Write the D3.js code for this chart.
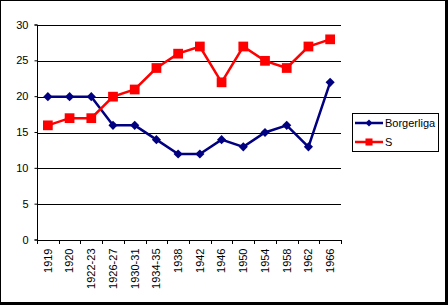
<!DOCTYPE html>
<html>
<head>
<meta charset="utf-8">
<script src="https://cdn.jsdelivr.net/npm/d3@7"></script>
<style>
  body { margin: 0; background: #fff; }
  text { font-family: "Liberation Sans", Arial, sans-serif; font-size: 11px; fill: #000; }
</style>
</head>
<body>
<div id="chart"></div>
<script>
// valår
const years = ['1919', '1920', '1922-23', '1926-27', '1930-31', '1934-35', '1938', '1942',
  '1946', '1950', '1954', '1958', '1962', '1966'];
const borgerliga = [20, 20, 20, 16, 16, 14, 12, 12, 14, 13, 15, 16, 13, 22];
const sValues = [16, 17, 17, 20, 21, 24, 26, 27, 22, 27, 25, 24, 27, 28];
const yTicks = [0, 5, 10, 15, 20, 25, 30];
const seriesNames = ['Borgerliga', 'S'];

const width = 448, height = 305;
const plot = { left: 37, right: 341, top: 25, bottom: 240 };

const svg = d3.select('#chart').append('svg')
  .attr('width', width)
  .attr('height', height);

// ram
svg.append('rect')
  .attr('x', 0.5).attr('y', 0.5)
  .attr('width', 445).attr('height', 302)
  .attr('fill', '#fff').attr('stroke', '#000');
svg.append('rect').attr('x', 445).attr('y', 0).attr('width', 3).attr('height', 305).attr('fill', '#000');
svg.append('rect').attr('x', 0).attr('y', 302).attr('width', 448).attr('height', 3).attr('fill', '#000');

const x = d3.scaleBand().domain(years).range([plot.left, plot.right]);
const y = d3.scaleLinear().domain([0, 30]).range([plot.bottom, plot.top]);

// rutnät
svg.append('g')
  .selectAll('line')
  .data(yTicks.filter(d => d > 0))
  .join('line')
  .attr('x1', plot.left).attr('x2', plot.right)
  .attr('y1', d => Math.round(y(d)) + 0.5).attr('y2', d => Math.round(y(d)) + 0.5)
  .attr('stroke', '#000');

// y-axel
const yAxis = svg.append('g')
  .attr('transform', `translate(${plot.left + 0.5},0)`)
  .call(d3.axisLeft(y).tickValues(yTicks).tickSize(3).tickPadding(6).tickFormat(d3.format('d'))
    .offset(0));
yAxis.select('.domain').attr('stroke', '#000');
yAxis.selectAll('.tick line').attr('stroke', '#000');
yAxis.selectAll('text').attr('font-family', null).attr('font-size', null);

// x-axel
const xAxis = svg.append('g')
  .attr('transform', `translate(0,${plot.bottom + 0.5})`)
  .call(d3.axisBottom(x).tickSize(0).tickSizeOuter(0).offset(0));
xAxis.select('.domain').attr('stroke', '#000');
xAxis.selectAll('text')
  .attr('font-family', null).attr('font-size', null)
  .attr('transform', 'rotate(-90)')
  .attr('text-anchor', 'end')
  .attr('x', -8).attr('y', 0).attr('dy', '0.35em');
svg.append('g')
  .selectAll('line')
  .data(d3.range(years.length + 1))
  .join('line')
  .attr('x1', i => Math.round(plot.left + i * x.step()) + 0.5)
  .attr('x2', i => Math.round(plot.left + i * x.step()) + 0.5)
  .attr('y1', plot.bottom).attr('y2', plot.bottom + 4)
  .attr('stroke', '#000');

const cx = d => x(d) + x.bandwidth() / 2;
const line = vals => d3.line().x((d, i) => cx(years[i])).y(d => y(d))(vals);

// romb = kvadrat vriden 45 grader
const series = [
  { name: seriesNames[0], values: borgerliga, color: '#000080', rot: 45, size: 42, legendSize: 24 },
  { name: seriesNames[1], values: sValues, color: '#ff0000', rot: 0, size: 95, legendSize: 50 }
];

series.forEach(s => {
  svg.append('path')
    .attr('d', line(s.values))
    .attr('fill', 'none')
    .attr('stroke', s.color)
    .attr('stroke-width', 2.5);
  svg.append('g')
    .selectAll('path')
    .data(s.values)
    .join('path')
    .attr('transform', (d, i) => `translate(${cx(years[i])},${y(d)}) rotate(${s.rot})`)
    .attr('d', d3.symbol().type(d3.symbolSquare).size(s.size))
    .attr('fill', s.color);
});

// förklaring
const legend = svg.append('g');
legend.append('rect')
  .attr('x', 352.5).attr('y', 113.5)
  .attr('width', 86).attr('height', 38)
  .attr('fill', '#fff').attr('stroke', '#000');
series.forEach((s, i) => {
  const ly = 123 + i * 19;
  legend.append('line')
    .attr('x1', 355).attr('x2', 383)
    .attr('y1', ly).attr('y2', ly)
    .attr('stroke', s.color).attr('stroke-width', 2.5);
  legend.append('path')
    .attr('transform', `translate(369,${ly}) rotate(${s.rot})`)
    .attr('d', d3.symbol().type(d3.symbolSquare).size(s.legendSize))
    .attr('fill', s.color);
  legend.append('text')
    .attr('x', 385).attr('y', ly).attr('dy', '0.35em')
    .text(s.name);
});
</script>
</body>
</html>
